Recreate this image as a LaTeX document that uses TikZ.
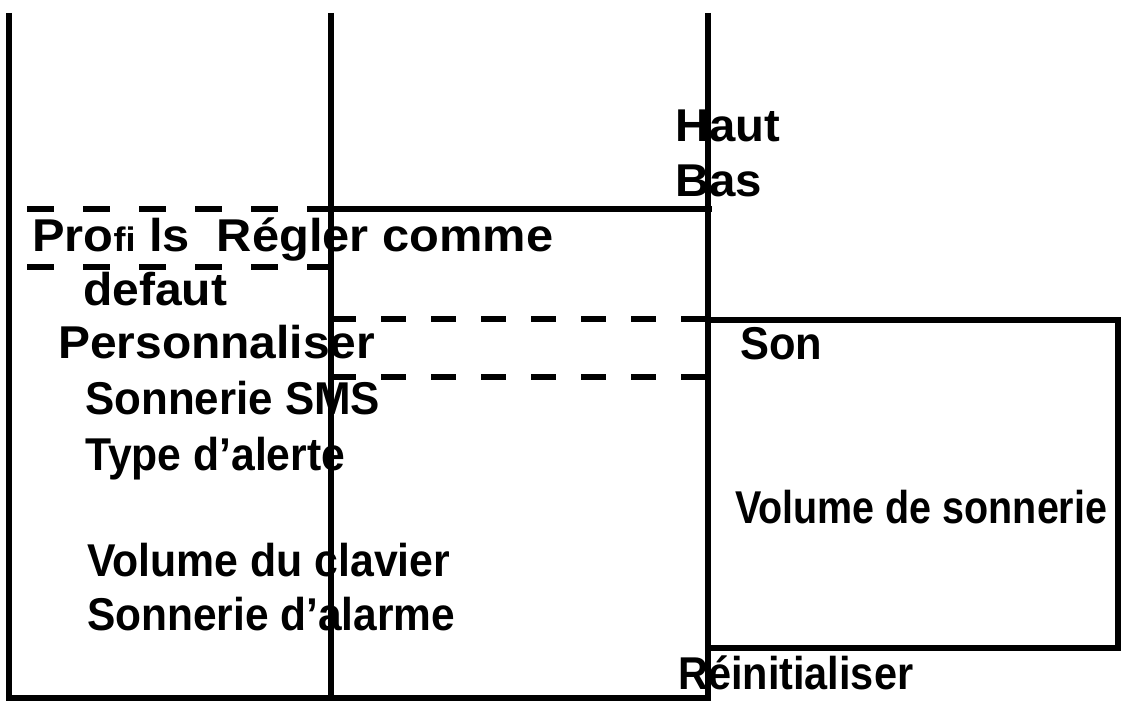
\documentclass[tikz,border=0pt]{standalone}
\usepackage{fontspec}
\setmainfont{Liberation Sans}
\usepackage{graphicx}
\newcommand\fitw[2]{\resizebox{#1pt}{\height}{#2}}
\begin{document}
\begin{tikzpicture}[x=1pt,y=-1pt,
  ln/.style={line width=5.5pt},
  dsh/.style={line width=5.5pt, dash pattern=on 25pt off 25pt},
  dshl/.style={line width=5.5pt, dash pattern=on 27pt off 29pt},
  txt/.style={inner sep=0pt, anchor=base west, font=\fontsize{46}{55}\selectfont\bfseries}]
\useasboundingbox (0,0) rectangle (1129,701);
% frame lines
\coordinate (tl) at (9,13);
\coordinate (bl) at (9,698);
\coordinate (br) at (711,698);
\draw[ln, line join=miter] (tl) -- (bl) -- (br);
\draw[ln] (331,13) -- (331,698);
\draw[ln] (708,13) -- (708,698);
\draw[ln] (331,209) -- (712,209);
\draw[ln] (708,320) rectangle (1118,648);
% dashed lines
\draw[dshl] (27,209) -- (331,209);
\draw[dshl] (27,267) -- (331,267);
\draw[dsh] (331,319) -- (708,319);
\draw[dsh] (331,377) -- (708,377);
% texts
\node[txt] (profils) at (32,251) {\fitw{521}{Pro{\fontsize{34}{34}\selectfont fi} ls\ \ Régler comme}};
\node[txt] (defaut) at (83,305) {\fitw{144}{defaut}};
\node[txt] (perso) at (58,358) {\fitw{317}{Personnaliser}};
\node[txt] (sms) at (85,414) {\fitw{295}{Sonnerie SMS}};
\node[txt] (type) at (85,470) {\fitw{260}{Type d’alerte}};
\node[txt] (clavier) at (87,576) {\fitw{363}{Volume du clavier}};
\node[txt] (alarme) at (87,630) {\fitw{368}{Sonnerie d’alarme}};
\node[txt] (haut) at (675,141) {\fitw{105}{Haut}};
\node[txt] (bas) at (675,196) {\fitw{87}{Bas}};
\node[txt] (son) at (740,359) {\fitw{82}{Son}};
\node[txt] (volson) at (735,523) {\fitw{372}{Volume de sonnerie}};
\node[txt] (reinit) at (678,689) {\fitw{235}{Réinitialiser}};
\end{tikzpicture}
\end{document}
